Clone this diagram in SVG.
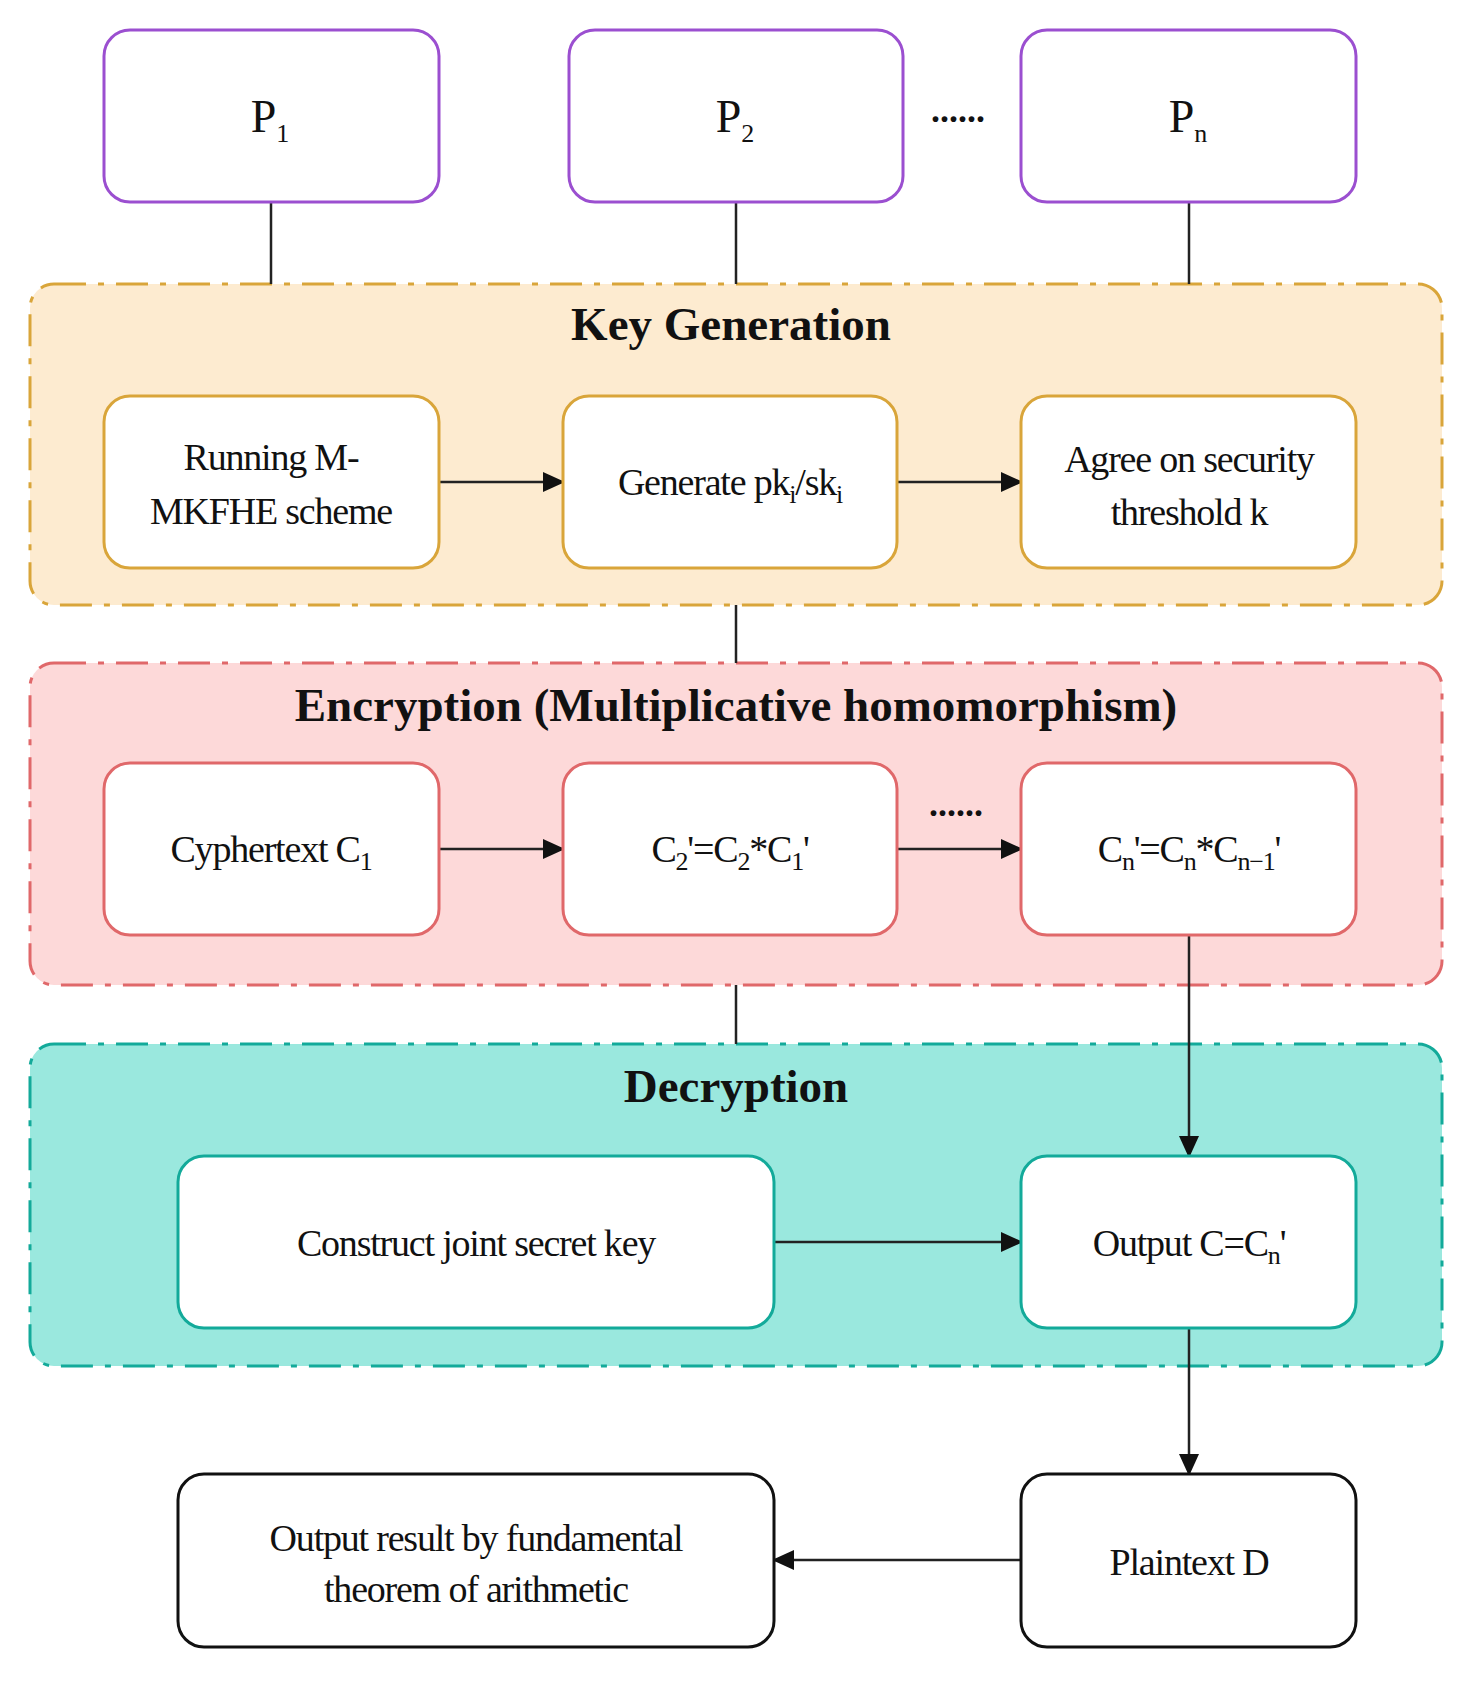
<svg xmlns="http://www.w3.org/2000/svg" width="1472" height="1682" viewBox="0 0 1472 1682">
<style>
text{font-family:"Liberation Serif","Times New Roman",serif;fill:#111;text-anchor:middle}
.t{font-size:38px;letter-spacing:-1.2px}
.h{font-size:47px;font-weight:bold}
.p{font-size:46px}
.s{font-size:26px}
.box{fill:#fff;stroke-width:3}
.grp{stroke-width:3;stroke-dasharray:32 12 6 12}
.ln{stroke:#222;stroke-width:2.5;fill:none}
</style>
<defs><marker id="b" markerWidth="22" markerHeight="20" refX="20" refY="10" orient="auto" markerUnits="userSpaceOnUse"><path d="M0,0 L22,10 L0,20 z" fill="#111"/></marker></defs>
<rect width="1472" height="1682" fill="#fff"/>
<g id="keygen"><rect x="30" y="284" width="1412" height="321" rx="24" fill="#fdebd0" stroke="#d9a53a" class="grp"/><text class="h" x="731" y="340">Key Generation</text></g>
<g id="encryption"><rect x="30" y="663" width="1412" height="322" rx="24" fill="#fdd9d9" stroke="#e0686a" class="grp"/><text class="h" x="736" y="721">Encryption (Multiplicative homomorphism)</text></g>
<g id="decryption"><rect x="30" y="1044" width="1412" height="322" rx="24" fill="#9ae8de" stroke="#13aa9a" class="grp"/><text class="h" x="736" y="1102">Decryption</text></g>
<g id="connectors">
<path class="ln" d="M271 202V284M736 202V284M1189 202V284M736 605V663M736 985V1044"/>
<path class="ln" d="M439 482H563" marker-end="url(#b)"/>
<path class="ln" d="M897 482H1021" marker-end="url(#b)"/>
<path class="ln" d="M439 849H563" marker-end="url(#b)"/>
<path class="ln" d="M897 849H1021" marker-end="url(#b)"/>
<path class="ln" d="M1189 935V1156" marker-end="url(#b)"/>
<path class="ln" d="M774 1242H1021" marker-end="url(#b)"/>
<path class="ln" d="M1189 1328V1474" marker-end="url(#b)"/>
<path class="ln" d="M1021 1560H774" marker-end="url(#b)"/>
</g>
<g id="p1"><rect class="box" x="104" y="30" width="335" height="172" rx="26" stroke="#9b4fd0"/><text class="p" x="270" y="132">P<tspan class="s" dy="10">1</tspan></text></g>
<g id="p2"><rect class="box" x="569" y="30" width="334" height="172" rx="26" stroke="#9b4fd0"/><text class="p" x="735" y="132">P<tspan class="s" dy="10">2</tspan></text></g>
<text x="958" y="122" font-size="36" font-weight="bold">......</text>
<g id="pn"><rect class="box" x="1021" y="30" width="335" height="172" rx="26" stroke="#9b4fd0"/><text class="p" x="1188" y="132">P<tspan class="s" dy="10">n</tspan></text></g>
<g id="running"><rect class="box" x="104" y="396" width="335" height="172" rx="26" stroke="#d9a53a"/><text class="t" x="271" y="470">Running M-</text><text class="t" x="271" y="524">MKFHE scheme</text></g>
<g id="generate"><rect class="box" x="563" y="396" width="334" height="172" rx="26" stroke="#d9a53a"/><text class="t" x="730" y="495">Generate pk<tspan class="s" dy="8">i</tspan><tspan dy="-8">/sk</tspan><tspan class="s" dy="8">i</tspan></text></g>
<g id="agree"><rect class="box" x="1021" y="396" width="335" height="172" rx="26" stroke="#d9a53a"/><text class="t" x="1189" y="472">Agree on security</text><text class="t" x="1189" y="525">threshold k</text></g>
<g id="c1"><rect class="box" x="104" y="763" width="335" height="172" rx="26" stroke="#e0686a"/><text class="t" x="271" y="862">Cyphertext C<tspan class="s" dy="8">1</tspan></text></g>
<g id="c2"><rect class="box" x="563" y="763" width="334" height="172" rx="26" stroke="#e0686a"/><text class="t" x="730" y="862">C<tspan class="s" dy="8">2</tspan><tspan dy="-8">'=C</tspan><tspan class="s" dy="8">2</tspan><tspan dy="-8">*C</tspan><tspan class="s" dy="8">1</tspan><tspan dy="-8">'</tspan></text></g>
<text x="956" y="816" font-size="36" font-weight="bold">......</text>
<g id="cn"><rect class="box" x="1021" y="763" width="335" height="172" rx="26" stroke="#e0686a"/><text class="t" x="1189" y="862">C<tspan class="s" dy="8">n</tspan><tspan dy="-8">'=C</tspan><tspan class="s" dy="8">n</tspan><tspan dy="-8">*C</tspan><tspan class="s" dy="8">n−1</tspan><tspan dy="-8">'</tspan></text></g>
<g id="construct"><rect class="box" x="178" y="1156" width="596" height="172" rx="26" stroke="#13aa9a"/><text class="t" x="476" y="1256">Construct joint secret key</text></g>
<g id="outputc"><rect class="box" x="1021" y="1156" width="335" height="172" rx="26" stroke="#13aa9a"/><text class="t" x="1189" y="1256">Output C=C<tspan class="s" dy="8">n</tspan><tspan dy="-8">'</tspan></text></g>
<g id="result"><rect class="box" x="178" y="1474" width="596" height="173" rx="26" stroke="#111"/><text class="t" x="476" y="1551">Output result by fundamental</text><text class="t" x="476" y="1602">theorem of arithmetic</text></g>
<g id="plaintext"><rect class="box" x="1021" y="1474" width="335" height="173" rx="26" stroke="#111"/><text class="t" x="1189" y="1575">Plaintext D</text></g>
</svg>
